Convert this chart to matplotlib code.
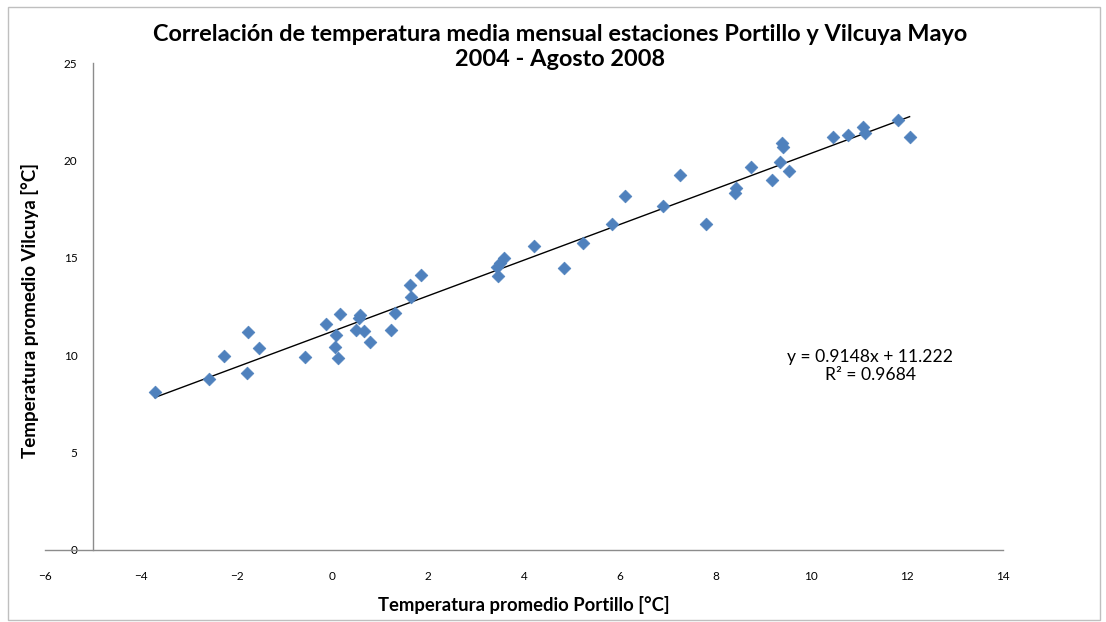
import matplotlib.pyplot as plt
from matplotlib.patches import Rectangle
import numpy as np

# monthly mean temperature, Portillo (x) vs Vilcuya (y), May 2004 - Aug 2008
portillo = [-3.71, -2.57, -2.27, -1.77, -1.79, -1.54, -0.58, -0.13, 0.15, 0.08,
            0.05, 0.11, 0.58, 0.55, 0.49, 0.67, 0.78, 1.23, 1.31, 1.64,
            1.63, 1.86, 3.45, 3.43, 3.49, 3.58, 4.21, 4.83, 5.23, 5.84,
            6.11, 6.91, 7.26, 7.79, 8.41, 8.43, 8.74, 9.18, 9.35, 9.54,
            9.39, 9.40, 10.45, 10.77, 11.07, 11.12, 11.80, 12.05]
vilcuya = [8.13, 8.78, 9.94, 11.19, 9.10, 10.37, 9.92, 11.60, 12.13, 11.02,
           10.44, 9.87, 12.05, 11.89, 11.28, 11.26, 10.68, 11.29, 12.15, 12.99,
           13.60, 14.10, 14.07, 14.51, 14.75, 14.97, 15.59, 14.49, 15.76, 16.72,
           18.16, 17.68, 19.25, 16.72, 18.31, 18.60, 19.68, 18.98, 19.90, 19.44,
           20.91, 20.70, 21.22, 21.30, 21.70, 21.41, 22.09, 21.20]

# linear trend as reported on the chart
slope = 0.9148
intercept = 11.222
r_squared = 0.9684

x_ticks = [-6, -4, -2, 0, 2, 4, 6, 8, 10, 12, 14]
y_ticks = [0, 5, 10, 15, 20, 25]

plt.rcParams['font.family'] = ['Lato', 'DejaVu Sans']

fig = plt.figure(figsize=(11.06, 6.22), dpi=100)
ax = fig.add_axes([45 / 1106, 72 / 622, 958 / 1106, 487 / 622])

# chart area frame
fig.patches.append(Rectangle((8 / 1106, 2 / 622), 1092 / 1106, 613 / 622,
                             transform=fig.transFigure, fill=False,
                             edgecolor="#bfbfbf", lw=1))

ax.scatter(portillo, vilcuya, marker="D", s=42, color="#4f81bd",
           edgecolors="#4f81bd", linewidths=0.5, zorder=3)

xs = np.array([min(portillo), max(portillo)])
ax.plot(xs, slope * xs + intercept, color="black", lw=1, zorder=2)

ax.set_xlim(-6, 14)
ax.set_ylim(0, 25)
ax.set_xticks(x_ticks)
ax.set_yticks(y_ticks)

ax.spines["left"].set_position(("data", -5))
ax.spines["top"].set_visible(False)
ax.spines["right"].set_visible(False)
for side in ("left", "bottom"):
    ax.spines[side].set_color("#8c8c8c")
    ax.spines[side].set_linewidth(1)
ax.tick_params(axis="both", length=0, labelsize=8.5, colors="black")
ax.tick_params(axis="x", pad=15)
ax.tick_params(axis="y", pad=11)

ax.text((870 - 45) / 958, (550 - 366) / 487,
        f"y = {slope}x + {intercept}\nR² = {r_squared}",
        transform=ax.transAxes, ha="center", va="center",
        fontsize=12.6, linespacing=1.2)

fig.text(0.506, 1 - 47 / 622,
         "Correlación de temperatura media mensual estaciones Portillo y Vilcuya Mayo\n"
         "2004 - Agosto 2008", ha="center", va="center", fontsize=16.9,
         fontweight="bold", linespacing=1.25)
fig.text(524 / 1106, 1 - 605 / 622, "Temperatura promedio Portillo [°C]",
         ha="center", va="center", fontsize=13.3, fontweight="bold")
fig.text(30 / 1106, 1 - 311 / 622, "Temperatura promedio Vilcuya [°C]",
         ha="center", va="center", rotation=90, fontsize=13.5, fontweight="bold")

fig.savefig("out.png", dpi=100)
